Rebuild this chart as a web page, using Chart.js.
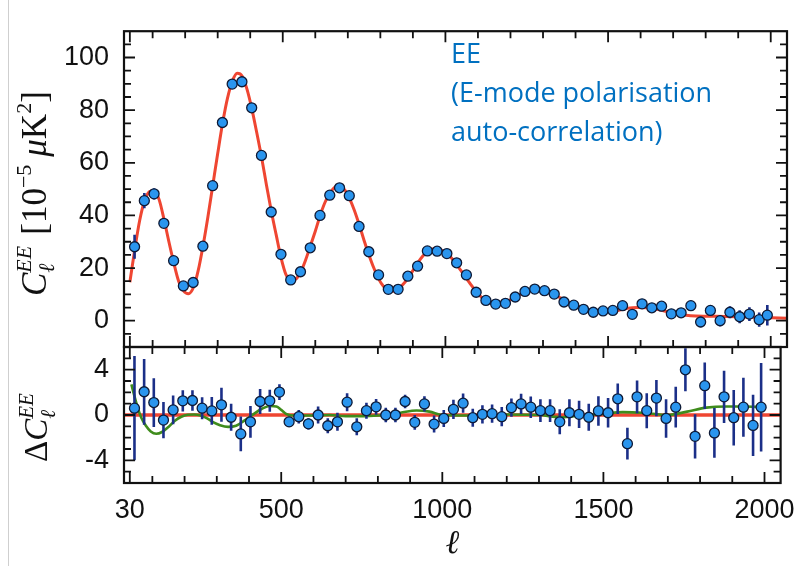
<!DOCTYPE html>
<html>
<head>
<meta charset="utf-8">
<script src="https://cdn.jsdelivr.net/npm/chart.js@4.4.0/dist/chart.umd.min.js"></script>
<style>
  html, body { margin: 0; padding: 0; background: #fff; }
  #wrap { position: relative; width: 806px; height: 566px; overflow: hidden; background: #fff; }
  #wrap canvas { position: absolute; left: 0; top: 0; }
  #edge { position: absolute; left: 8px; top: 0; width: 1px; height: 566px; background: #cfcfcf; }
  #note { position: absolute; left: 451px; top: 33px; color: #0070c0; font: 27px "Open Sans", sans-serif; line-height: 39px; white-space: nowrap; }
</style>
</head>
<body>
<div id="wrap">
  <div id="edge"></div>
  <canvas id="topPanel" width="806" height="566" style="width:806px;height:566px"></canvas>
  <canvas id="bottomPanel" width="806" height="566" style="width:806px;height:566px"></canvas>
  <div id="note">EE<br>(E-mode polarisation<br>auto-correlation)</div>
</div>
<script>
// Bin centres (ell), binned EE band powers [1e-5 uK^2], residuals and errors
const ell = [44.5, 74.5, 104.5, 134.5, 164.5, 194.5, 224.5, 254.5, 284.5, 314.5,
  344.5, 374.5, 404.5, 434.5, 464.5, 494.5, 524.5, 554.5, 584.5, 614.5,
  644.5, 674.5, 704.5, 734.5, 764.5, 794.5, 824.5, 854.5, 884.5, 914.5,
  944.5, 974.5, 1004.5, 1034.5, 1064.5, 1094.5, 1124.5, 1154.5, 1184.5, 1214.5,
  1244.5, 1274.5, 1304.5, 1334.5, 1364.5, 1394.5, 1424.5, 1454.5, 1484.5, 1514.5,
  1544.5, 1574.5, 1604.5, 1634.5, 1664.5, 1694.5, 1724.5, 1754.5, 1784.5, 1814.5,
  1844.5, 1874.5, 1904.5, 1934.5, 1964.5, 1989.5];

const dEE = [28.1, 45.6, 48.2, 37.0, 22.8, 13.2, 14.5, 28.3, 51.3, 75.3,
  89.9, 90.8, 80.9, 62.8, 41.3, 25.2, 15.5, 18.6, 27.7, 40.0,
  47.7, 50.5, 47.5, 35.8, 26.2, 17.4, 11.9, 11.9, 16.9, 20.7,
  26.5, 26.4, 25.5, 22.0, 17.4, 10.8, 7.7, 6.3, 6.6, 9.0,
  11.1, 12.0, 11.4, 10.1, 7.1, 5.9, 4.3, 3.2, 3.7, 3.9,
  5.7, 2.4, 6.4, 4.9, 5.5, 2.6, 3.0, 5.7, -0.5, 3.9,
  0.0, 3.2, 1.5, 2.5, 0.4, 2.1];

const resid = [0.6, 2.05, 1.1, -0.45, 0.45, 1.25, 1.28, 0.6, 0.36, 0.9,
  -0.2, -1.67, -0.6, 1.19, 1.25, 2.02, -0.6, -0.15, -0.78, 0.0,
  -0.95, -0.6, 1.13, -1.04, 0.38, 0.72, 0.0, 0.0, 1.19, -0.65,
  0.98, -0.8, -0.3, 0.5, 1.04, -0.24, 0.06, 0.12, -0.15, 0.65,
  0.98, 0.69, 0.38, 0.38, -0.6, 0.2, 0.06, -0.2, 0.36, 0.2,
  1.43, -2.53, 1.6, 0.38, 1.49, -0.3, 0.69, 3.99, -1.88, 2.59,
  -1.58, 1.6, -0.24, 0.69, -0.92, 0.69];

const errEE = [4.6, 2.9, 2.15, 1.6, 1.27, 0.94, 0.9, 0.97, 1.23, 1.5,
  1.2, 1.53, 1.4, 1.1, 0.97, 0.7, 0.45, 0.6, 0.5, 0.75,
  0.67, 0.8, 0.8, 0.75, 0.7, 0.7, 0.65, 0.65, 0.6, 0.65,
  0.67, 0.75, 0.75, 0.85, 0.85, 0.8, 0.8, 0.8, 0.85, 0.8,
  0.9, 0.95, 1.0, 1.0, 1.1, 1.2, 1.2, 1.2, 1.3, 1.3,
  1.35, 1.4, 1.45, 1.55, 1.6, 1.7, 1.8, 1.9, 1.95, 2.05,
  2.2, 2.3, 2.45, 2.6, 2.7, 3.9];

// best-fit model curve (red)
const modelEll = [30, 45, 60, 75, 90, 105, 120, 135, 150, 165, 180, 195, 210, 225, 240, 255, 270, 285, 300, 315,
  330, 345, 360, 375, 390, 405, 420, 435, 450, 465, 480, 495, 510, 525, 540, 555, 570, 585, 600, 615,
  630, 645, 660, 675, 690, 705, 720, 735, 750, 765, 780, 795, 810, 825, 840, 855, 870, 885, 900, 915,
  930, 945, 960, 975, 990, 1005, 1020, 1035, 1050, 1065, 1080, 1095, 1110, 1125, 1140, 1155, 1170, 1185, 1200, 1230,
  1260, 1290, 1320, 1350, 1380, 1410, 1440, 1470, 1500, 1530, 1560, 1590, 1620, 1650, 1680, 1710, 1740, 1770, 1800, 1860,
  1920, 1980, 2050];
const modelEE = [14.6, 27.0, 38.0, 45.5, 49.0, 49.5, 46.0, 38.5, 30.0, 22.0, 15.0, 11.3, 10.2, 12.5, 19.0, 28.5, 39.5, 51.5, 63.5, 75.0,
  84.5, 91.0, 94.0, 93.0, 88.0, 80.5, 71.5, 62.0, 51.5, 41.5, 32.5, 23.8, 17.5, 15.3, 15.8, 18.5, 23.0, 28.5, 34.0, 40.0,
  45.0, 48.5, 50.7, 51.2, 49.8, 46.5, 42.0, 36.5, 30.5, 25.0, 20.0, 15.8, 13.0, 11.5, 11.2, 12.0, 13.8, 16.2, 19.0, 22.0,
  24.5, 26.3, 27.2, 27.2, 26.6, 25.5, 23.6, 21.2, 18.6, 16.0, 13.4, 11.0, 9.0, 7.5, 6.6, 6.3, 6.5, 7.1, 8.0, 10.0,
  11.3, 11.4, 10.5, 8.9, 7.0, 5.3, 4.1, 3.5, 3.5, 3.9, 4.7, 5.0, 4.9, 4.3, 3.5, 2.7, 2.1, 1.8, 1.7, 1.6,
  1.4, 1.2, 0.9];

// alternative model difference (green)
const greenEll = [35, 45, 55, 65, 80, 95, 112, 130, 150, 170, 190, 210, 230, 250, 270, 290, 310, 335, 360, 385,
  410, 440, 465, 485, 500, 515, 540, 600, 650, 700, 760, 820, 870, 920, 960, 1000, 1100, 1200, 1300, 1370,
  1430, 1500, 1560, 1620, 1700, 1760, 1820, 1880, 1940, 1990];
const greenD = [2.7, 1.6, 0.6, -0.2, -0.95, -1.45, -1.65, -1.5, -1.05, -0.5, -0.15, 0.02, 0.05, -0.05, -0.3, -0.65, -0.9, -1.05, -0.95, -0.5,
  0.0, 0.55, 0.8, 0.75, 0.45, 0.1, -0.05, -0.05, 0.0, -0.1, -0.1, 0.0, 0.2, 0.4, 0.3, 0.0, -0.05, 0.05, 0.0, -0.2,
  -0.05, 0.1, 0.25, 0.2, 0.0, 0.3, 0.65, 0.75, 0.75, 0.7];

const zeroEll = [12, 2050];
const zeroD = [0, 0];

// axis ticks
const xLabelTicks = [30, 500, 1000, 1500, 2000];
const xMinorTicks = [100, 200, 300, 400, 600, 700, 800, 900, 1100, 1200, 1300, 1400, 1600, 1700, 1800, 1900];
const yTopLabels = [0, 20, 40, 60, 80, 100];
const yTopMinor = [-5, 5, 10, 15, 25, 30, 35, 45, 50, 55, 65, 70, 75, 85, 90, 95, 105];
const yBotLabels = [-4, 0, 4];
const yBotMinor = [-5, -3, -2, -1, 1, 2, 3, 5];

const RED = '#ef4632';
const GREEN = '#3f8c1c';
const DOT = '#2a95ee';
const DOT_EDGE = '#0e1a36';
const BAR = '#1b2f88';
const tickFont = { family: 'Arial, "Liberation Sans", sans-serif', size: 27 };

function pts(xs, ys) {
  return xs.map((x, i) => ({ x: x, y: ys[i] }));
}

// inward ticks on all four sides plus the frame
function makeFrame(yLabels, yMinor) {
  return {
    id: 'frame',
    afterDatasetsDraw(chart) {
      const ctx = chart.ctx, a = chart.chartArea;
      const xs = chart.scales.x, ys = chart.scales.y;
      ctx.save();
      ctx.strokeStyle = '#111';
      ctx.lineWidth = 1.8;
      ctx.beginPath();
      const seg = (x1, y1, x2, y2) => { ctx.moveTo(x1, y1); ctx.lineTo(x2, y2); };
      xLabelTicks.forEach(v => {
        const p = xs.getPixelForValue(v);
        seg(p, a.top, p, a.top + 11); seg(p, a.bottom, p, a.bottom - 11);
      });
      xMinorTicks.forEach(v => {
        const p = xs.getPixelForValue(v);
        seg(p, a.top, p, a.top + 7); seg(p, a.bottom, p, a.bottom - 7);
      });
      yLabels.forEach(v => {
        const p = ys.getPixelForValue(v);
        seg(a.left, p, a.left + 11, p); seg(a.right, p, a.right - 11, p);
      });
      yMinor.forEach(v => {
        const p = ys.getPixelForValue(v);
        seg(a.left, p, a.left + 7, p); seg(a.right, p, a.right - 7, p);
      });
      ctx.stroke();
      ctx.lineWidth = 2.2;
      ctx.strokeRect(a.left, a.top, a.right - a.left, a.bottom - a.top);
      ctx.restore();
    }
  };
}

// vertical error bars, drawn just before the points dataset
function makeErrBars(vals, errs) {
  return {
    id: 'errBars',
    beforeDatasetDraw(chart, args) {
      if (args.index !== 0) return;
      const ctx = chart.ctx, a = chart.chartArea;
      const xs = chart.scales.x, ys = chart.scales.y;
      ctx.save();
      ctx.beginPath();
      ctx.rect(a.left, a.top, a.right - a.left, a.bottom - a.top);
      ctx.clip();
      ctx.strokeStyle = BAR;
      ctx.lineWidth = 2.6;
      ctx.beginPath();
      vals.forEach((v, i) => {
        const x = xs.getPixelForValue(ell[i]);
        ctx.moveTo(x, ys.getPixelForValue(v - errs[i]));
        ctx.lineTo(x, ys.getPixelForValue(v + errs[i]));
      });
      ctx.stroke();
      ctx.restore();
    }
  };
}

// rotated math-like axis title built from pieces
function makeYTitle(pieces, baseX, startY) {
  return {
    id: 'yTitle',
    afterDraw(chart) {
      const ctx = chart.ctx;
      ctx.save();
      ctx.translate(baseX, startY);
      ctx.rotate(-Math.PI / 2);
      ctx.fillStyle = '#111';
      ctx.textBaseline = 'alphabetic';
      let pos = 0, held = 0;
      pieces.forEach(p => {
        ctx.font = (p.it ? 'italic ' : '') + p.s + 'px "Liberation Serif", "DejaVu Serif", serif';
        const w = ctx.measureText(p.t).width;
        ctx.fillText(p.t, pos, p.dy || 0);
        if (p.keep) { held = w; return; }
        pos += Math.max(w, held) + (p.gap || 0);
        held = 0;
      });
      ctx.restore();
    }
  };
}

const topTitle = [
  { t: 'C', s: 35, it: true },
  { t: 'EE', s: 22, it: true, dy: -15, keep: true },
  { t: 'ℓ', s: 22, it: true, dy: 8, gap: 11 },
  { t: '[10', s: 35 },
  { t: '−5', s: 22, dy: -15, gap: 8 },
  { t: 'μ', s: 35, it: true },
  { t: 'K', s: 35 },
  { t: '2', s: 22, dy: -15 },
  { t: ']', s: 35 }
];
const botTitle = [
  { t: 'Δ', s: 33 },
  { t: 'C', s: 33, it: true },
  { t: 'EE', s: 21, it: true, dy: -14, keep: true },
  { t: 'ℓ', s: 21, it: true, dy: 8 }
];

const fmt = v => String(v);

new Chart(document.getElementById('topPanel'), {
  type: 'scatter',
  data: {
    datasets: [
      { label: 'EE', data: pts(ell, dEE), pointRadius: 5, pointBackgroundColor: DOT,
        pointBorderColor: DOT_EDGE, pointBorderWidth: 1.3, order: 0 },
      { label: 'model', data: pts(modelEll, modelEE), showLine: true, pointRadius: 0,
        borderColor: RED, borderWidth: 3, cubicInterpolationMode: 'monotone', order: 1 }
    ]
  },
  options: {
    responsive: false,
    animation: false,
    layout: { padding: { left: 0, right: 19, top: 11, bottom: 219 } },
    plugins: { legend: { display: false }, tooltip: { enabled: false } },
    scales: {
      x: { display: false, min: 12, max: 2050 },
      y: {
        min: -10, max: 110,
        afterFit: s => { s.width = 124; },
        afterBuildTicks: s => { s.ticks = yTopLabels.map(v => ({ value: v })); },
        grid: { display: false, drawTicks: false },
        border: { display: false },
        ticks: { padding: 15, color: '#111', font: tickFont, callback: fmt }
      }
    }
  },
  plugins: [makeErrBars(dEE, errEE), makeFrame(yTopLabels, yTopMinor), makeYTitle(topTitle, 46, 296)]
});

new Chart(document.getElementById('bottomPanel'), {
  type: 'scatter',
  data: {
    datasets: [
      { label: 'residual', data: pts(ell, resid), pointRadius: 5, pointBackgroundColor: DOT,
        pointBorderColor: DOT_EDGE, pointBorderWidth: 1.3, order: 0 },
      { label: 'alt', data: pts(greenEll, greenD), showLine: true, pointRadius: 0,
        borderColor: GREEN, borderWidth: 2.6, cubicInterpolationMode: 'monotone', order: 1 },
      { label: 'zero', data: pts(zeroEll, zeroD), showLine: true, pointRadius: 0,
        borderColor: RED, borderWidth: 3.5, order: 2 }
    ]
  },
  options: {
    responsive: false,
    animation: false,
    layout: { padding: { left: 0, right: 19, top: 347, bottom: 0 } },
    plugins: { legend: { display: false }, tooltip: { enabled: false } },
    scales: {
      x: {
        min: 12, max: 2050,
        afterFit: s => { s.height = 83; },
        afterBuildTicks: s => { s.ticks = xLabelTicks.map(v => ({ value: v })); },
        grid: { display: false, drawTicks: false },
        border: { display: false },
        ticks: { padding: 11, color: '#111', font: tickFont, maxRotation: 0, callback: fmt },
        title: { display: true, text: 'ℓ', color: '#111', padding: { top: 0, bottom: 2 },
          font: { family: '"Liberation Serif", "DejaVu Serif", serif', style: 'italic', size: 33 } }
      },
      y: {
        min: -6, max: 6,
        afterFit: s => { s.width = 124; },
        afterBuildTicks: s => { s.ticks = yBotLabels.map(v => ({ value: v })); },
        grid: { display: false, drawTicks: false },
        border: { display: false },
        ticks: { padding: 15, color: '#111', font: tickFont, callback: fmt }
      }
    }
  },
  plugins: [makeErrBars(resid, errEE), makeFrame(yBotLabels, yBotMinor), makeYTitle(botTitle, 47, 462)]
});
</script>
</body>
</html>
